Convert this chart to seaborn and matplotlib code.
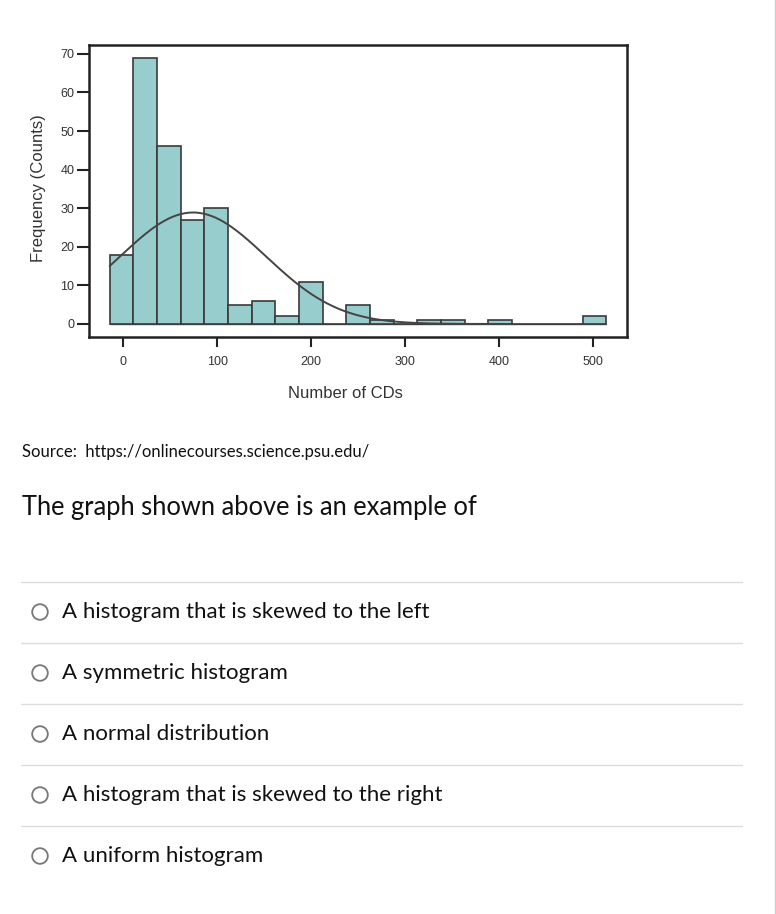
import numpy as np
import pandas as pd
import matplotlib
matplotlib.use("Agg")
import matplotlib.pyplot as plt
from matplotlib.patches import Circle
import seaborn as sns

# Histogram data (bin centres)
bin_centers = [0, 25, 50, 75, 100, 125, 150, 175, 200, 225, 250, 275, 300,
               325, 350, 375, 400, 425, 450, 475, 500]
counts = [18, 69, 46, 27, 30, 5, 6, 2, 11, 0, 5, 1, 0,
          1, 1, 0, 1, 0, 0, 0, 2]
bin_width = 25.2
bin_start = -14.5

x_ticks = [0, 100, 200, 300, 400, 500]
y_ticks = [0, 10, 20, 30, 40, 50, 60, 70]

source_text = "Source:  https://onlinecourses.science.psu.edu/"
question = "The graph shown above is an example of"
options = ["A histogram that is skewed to the left",
           "A symmetric histogram",
           "A normal distribution",
           "A histogram that is skewed to the right",
           "A uniform histogram"]

df = pd.DataFrame({"cds": bin_centers, "n": counts})
lo = bin_start
hi = bin_start + bin_width * len(bin_centers)

sns.set_style("white")
W, H = 776, 914
fig = plt.figure(figsize=(W / 100, H / 100), dpi=100)

# Page layer in pixel coordinates
page = fig.add_axes([0, 0, 1, 1], zorder=0)
page.set_xlim(0, W)
page.set_ylim(H, 0)
page.axis("off")

# Chart
ax = fig.add_axes([89.3 / W, 1 - 337.3 / H, 538 / W, 292.3 / H], zorder=1)
sns.histplot(data=df, x="cds", weights="n", binwidth=bin_width, binrange=(lo, hi), ax=ax,
             color="#98cdcd", alpha=1, edgecolor="#3a3a3a", linewidth=1.2)

# Fitted normal curve from the data
total = df["n"].sum()
mean = (df["cds"] * df["n"]).sum() / total
sd = np.sqrt(((df["cds"] - mean) ** 2 * df["n"]).sum() / total)
xs = np.linspace(lo, 412, 300)
ys = total * 25 * np.exp(-0.5 * ((xs - mean) / sd) ** 2) / (sd * np.sqrt(2 * np.pi))
sns.lineplot(x=xs, y=ys, ax=ax, color="#444444", linewidth=1.4)
ax.plot([lo, hi], [0, 0], color="#555555", lw=1.0, zorder=0.5)

ax.set_xlim(-36.2, 536.9)
ax.set_ylim(-3.45, 72.3)
ax.set_xticks(x_ticks)
ax.set_yticks(y_ticks)
ax.tick_params(axis="both", direction="out", bottom=True, left=True, width=1.5,
               color="#222222", labelsize=9, labelcolor="#333333")
ax.tick_params(axis="x", length=7.5, pad=6)
ax.tick_params(axis="y", length=8.8, pad=2)
ax.set_xlabel("Number of CDs", fontsize=12, color="#333333", family="Liberation Sans")
ax.set_ylabel("Frequency (Counts)", fontsize=12, color="#333333", family="Liberation Sans")
ax.xaxis.set_label_coords(0.477, -0.168)
ax.yaxis.set_label_coords(-0.081, 0.511)
for lbl in ax.get_xticklabels() + ax.get_yticklabels():
    lbl.set_family("Liberation Sans")
for s in ax.spines.values():
    s.set_visible(True)
    s.set_color("#222222")
    s.set_linewidth(1.8)

# Question text
page.text(22, 452, source_text, fontsize=12, family="Lato", va="center", ha="left", color="#111111")
page.text(22, 507, question, fontsize=18.4, family="Lato", va="center", ha="left", color="#111111")

sep_y = [582, 643, 704, 765, 826]
opt_y = [611, 672, 733, 794, 855]
for y in sep_y:
    page.plot([21, 742], [y, y], color="#dddddd", lw=1)
for y, txt in zip(opt_y, options):
    page.add_patch(Circle((40, y + 1), 7.8, fill=False, edgecolor="#777777", lw=1.3))
    page.text(62, y + 1, txt, fontsize=16, family="Lato", va="center", ha="left", color="#111111")
page.plot([775, 775], [0, H], color="#cccccc", lw=1)

fig.savefig("out.png", dpi=100)
